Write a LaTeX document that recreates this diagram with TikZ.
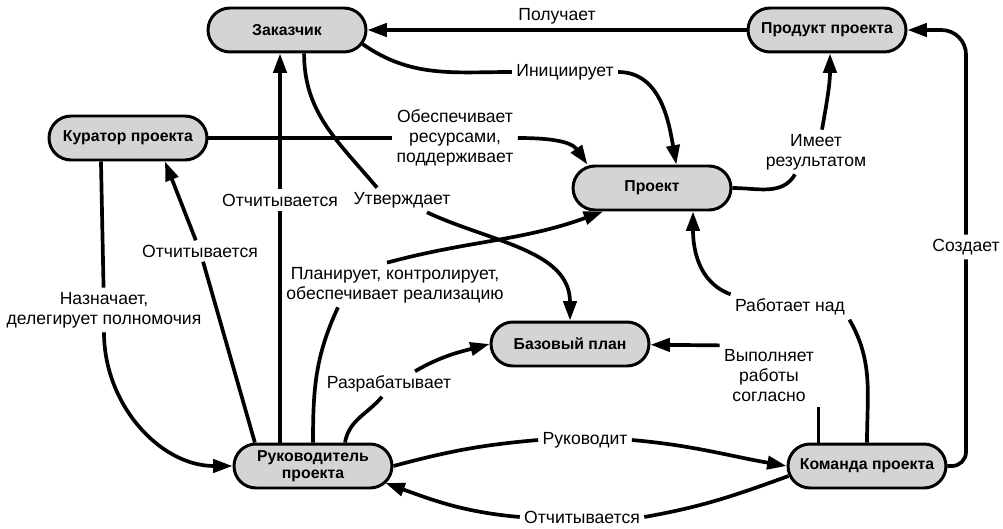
\documentclass[tikz,border=0pt]{standalone}
\usepackage{fontspec}
\setmainfont{Liberation Sans}
\usetikzlibrary{arrows.meta,calc}

\begin{document}
\begin{tikzpicture}[->,x=0.02cm,y=0.02cm,line width=2.1pt,
    >={Triangle[length=11pt,width=7.5pt]},
    box/.style={draw,line width=1.7pt,fill=black!17,rounded corners=0.44cm,
        minimum width=3.16cm,minimum height=0.88cm,inner sep=0pt,align=center,
        font=\fontsize{9}{9.5}\selectfont\bfseries},
    lbl/.style={inner sep=1.5pt,align=center,font=\fontsize{10}{11.4}\selectfont}]
    \useasboundingbox (0,0) rectangle (1003,528);

    \node[box] (zak) at (287,498) {Заказчик};
    \node[box] (prod) at (827,498) {Продукт проекта};
    \node[box] (kur) at (128,390) {Куратор проекта};
    \node[box] (proj) at (652,340) {Проект};
    \node[box] (plan) at (570,184) {Базовый план};
    \node[box] (ruk) at (313,62) {Руководитель\\проекта};
    \node[box] (kom) at (867,62) {Команда проекта};

    \node[lbl] (ini) at (565,456) {Инициирует};
    \node[lbl] (obes) at (455,390) {Обеспечивает\\ресурсами,\\поддерживает};
    \node[lbl] (utv) at (402,328) {Утверждает};
    \node[lbl] (otch1) at (280,328) {Отчитывается};
    \node[lbl] (otch2) at (200,277) {Отчитывается};
    \node[lbl] (naz) at (104,218) {Назначает,\\делегирует полномочия};
    \node[lbl] (plank) at (395,243) {Планирует, контролирует,\\обеспечивает реализацию};
    \node[lbl] (razr) at (389,144) {Разрабатывает};
    \node[lbl] (rukov) at (585,88) {Руководит};
    \node[lbl] (otch3) at (582,11) {Отчитывается};
    \node[lbl] (vyp) at (769,152) {Выполняет\\работы\\согласно};
    \node[lbl] (rab) at (790,221) {Работает над};
    \node[lbl] (sozd) at (966,281) {Создает};
    \node[lbl] (imeet) at (816,376) {Имеет\\результатом};

    \path
    (prod) edge node[lbl,above=1pt] {Получает} (zak)
    ($(zak.east)+(-5,-14)$) edge[-,out=-35,in=180] (ini.west)
    (ini.east) edge[out=0,in=100] (proj.44)
    (kur) edge[-] (obes)
    (obes.east) edge[out=0,in=125] (proj.160)
    (zak.-54) edge[-,out=-90,in=130] ($(utv.north)+(-25,0)$)
    ($(utv.south)+(25,0)$) edge[out=-25,in=90] (plan.north)
    (ruk.north -| otch1) edge[-] (otch1)
    (otch1) edge (otch1 |- zak.south)
    (ruk.158) edge[-] (otch2)
    (otch2) edge ($(kur.south)+(37,0)$)
    (kur.221) edge[-] (naz)
    (naz.south) edge[out=-90,in=180] (ruk.west)
    (ruk.north) edge[-,out=90,in=-115] ($(plank.south)+(-57,0)$)
    ($(plank.north)+(-8,0)$) edge[out=15,in=200] ($(proj.south)+(-49,0)$)
    ($(ruk.north)+(32,0)$) edge[-,out=80,in=-130] ($(razr.south)+(-7,0)$)
    ($(razr.north)+(26,0)$) edge[out=30,in=195] (plan.west)
    (ruk.east) edge[-,out=15,in=185] (rukov.west)
    (rukov.east) edge[out=-5,in=170] (kom.west)
    ($(kom.west)+(2,-10)$) edge[-,out=200,in=10] (otch3.east)
    (otch3.west) edge[out=175,in=-20] ($(ruk.east)+(-8,-17)$)
    (kom.north -| vyp.south east) edge[-] (vyp.south east)
    (vyp.north west) edge (plan)
    (kom.north) edge[-,out=90,in=-60] (rab.south east)
    (rab.north west) edge[out=160,in=-90] ($(proj.south)+(41,0)$)
    (kom.east) edge[-,rounded corners=8pt,to path={-| (\tikztotarget)}] (sozd.south)
    (sozd.north) edge[rounded corners=14pt,to path={|- (\tikztotarget)}] (prod.east)
    (proj.east) edge[-,out=0,in=-120] ($(imeet.south)+(-21,0)$)
    ($(imeet.north)+(6,0)$) edge[out=80,in=-90] ($(prod.south)+(3,0)$);
\end{tikzpicture}
\end{document}
